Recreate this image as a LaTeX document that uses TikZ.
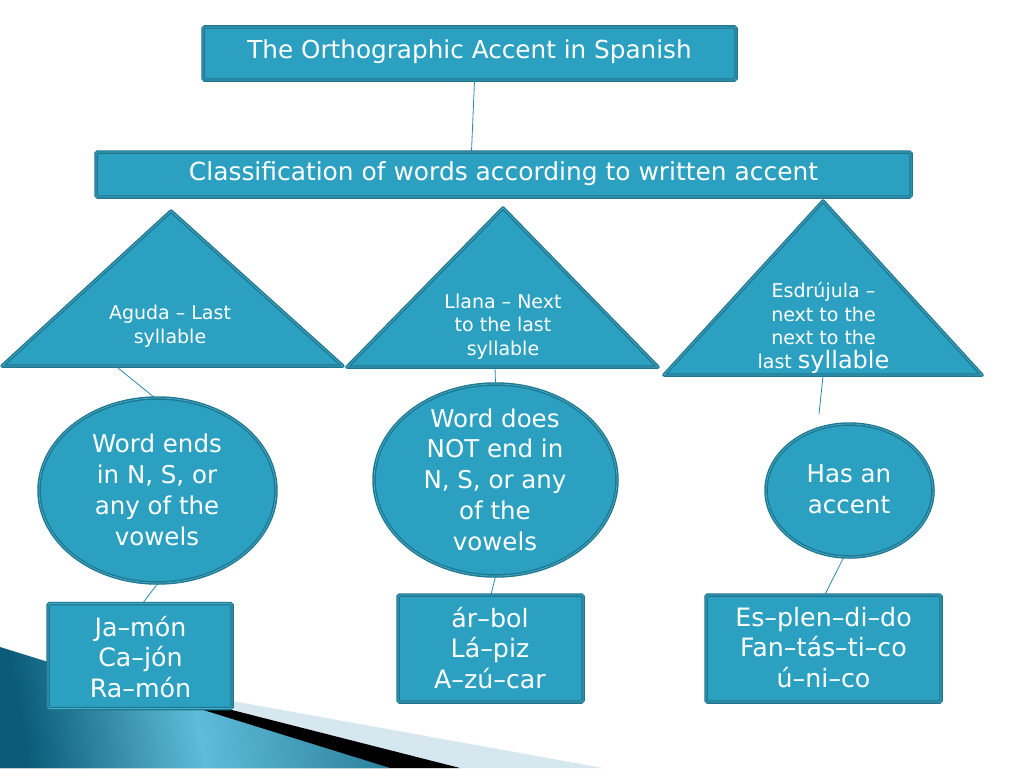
\documentclass[tikz,border=0pt]{standalone}
\usepackage{fontspec}
\setmainfont{DejaVu Sans}
\usetikzlibrary{shapes.geometric}
\definecolor{boxfill}{RGB}{44,160,193}
\definecolor{boxline}{RGB}{31,118,143}
\definecolor{boxinner}{RGB}{70,175,205}
\definecolor{conn}{RGB}{40,140,168}
\definecolor{tealdark}{RGB}{10,92,120}
\definecolor{teallight}{RGB}{95,188,218}
\definecolor{lightband}{RGB}{214,231,240}
\tikzset{
  shapebox/.style={draw=boxline, double=boxinner, double distance=0.7pt, line width=1.4pt, fill=boxfill, rounded corners=1.5pt, inner sep=0pt},
  ellbox/.style={ellipse, draw=boxline, double=boxinner, double distance=0.7pt, line width=1.4pt, fill=boxfill, inner sep=0pt},
  tribox/.style={draw=boxline, double=boxinner, double distance=0.7pt, line width=1.4pt, fill=boxfill, line join=round},
  txt/.style={text=white, align=center, inner sep=0pt},
  conline/.style={draw=conn, line width=0.8pt},
  trifont/.style={font=\fontsize{19}{23.5}\selectfont},
  ellfont/.style={font=\fontsize{24.5}{30.8}\selectfont},
  boxfont/.style={font=\fontsize{25.3}{30.8}\selectfont},
}
\begin{document}
\begin{tikzpicture}[x=1pt,y=-1pt]
\useasboundingbox (0,0) rectangle (1024,768);
\fill[white] (0,0) rectangle (1024,768);
% decoration
\fill[lightband] (0,659) -- (603,768) -- (0,768) -- cycle;
\fill[black] (0,651) -- (460,768) -- (0,768) -- cycle;
\shade[left color=tealdark, right color=tealdark!60!teallight, middle color=teallight, shading angle=100] (0,647) -- (390,768) -- (0,768) -- cycle;
% top boxes
\node[shapebox, minimum width=533pt, minimum height=53pt] (top) at (469.5,53.5) {};
\node[txt, font=\fontsize{24.7}{30}\selectfont] (toptxt) at (469.5,52) {The Orthographic Accent in Spanish};
\node[shapebox, minimum width=815pt, minimum height=45pt] (cls) at (503.5,174.5) {};
\node[txt, font=\fontsize{24.9}{30}\selectfont] (clstxt) at (503.5,173.5) {Classification of words according to written accent};
% triangles
\coordinate (t1a) at (171,211); \coordinate (t1l) at (2,366); \coordinate (t1r) at (343,366);
\coordinate (t2a) at (503,208); \coordinate (t2l) at (347,367); \coordinate (t2r) at (658,367);
\coordinate (t3a) at (823,201); \coordinate (t3l) at (664,375); \coordinate (t3r) at (982,375);
\path[tribox] (t1a) -- (t1r) -- (t1l) -- cycle;
\path[tribox] (t2a) -- (t2r) -- (t2l) -- cycle;
\path[tribox] (t3a) -- (t3r) -- (t3l) -- cycle;
\node[txt, trifont] (t1txt) at (170,326.5) {Aguda – Last\\syllable};
\node[txt, trifont] (t2txt) at (503,326.5) {Llana – Next\\to the last\\syllable};
\node[txt, trifont] (t3txt) at (823.5,328) {Esdrújula –\\next to the\\next to the\\last {\fontsize{24}{23.5}\selectfont syllable}};
% ellipses
\node[ellbox, minimum width=237pt, minimum height=185pt] (e1) at (157.5,490.5) {};
\node[ellbox, minimum width=243pt, minimum height=192pt] (e2) at (495.5,480) {};
\node[ellbox, minimum width=167pt, minimum height=133pt] (e3) at (849.5,490.5) {};
\node[txt, ellfont] (e1txt) at (157,490) {Word ends\\in N, S, or\\any of the\\vowels};
\node[txt, ellfont] (e2txt) at (495,479.5) {Word does\\NOT end in\\N, S, or any\\of the\\vowels};
\node[txt, ellfont] (e3txt) at (849,489.5) {Has an\\accent};
% bottom boxes
\node[shapebox, minimum width=184pt, minimum height=105pt] (b1) at (140,656) {};
\node[shapebox, minimum width=185pt, minimum height=107pt] (b2) at (490.5,648.5) {};
\node[shapebox, minimum width=235pt, minimum height=107pt] (b3) at (823.5,648.5) {};
\node[txt, boxfont] (b1txt) at (140.5,657) {Ja–món\\Ca–jón\\Ra–món};
\node[txt, boxfont] (b2txt) at (490,648) {ár–bol\\Lá–piz\\A–zú–car};
\node[txt, boxfont] (b3txt) at (823.5,647.5) {Es–plen–di–do\\Fan–tás–ti–co\\ú–ni–co};
% connectors
\coordinate (t1c) at (118,368);
\coordinate (t2c) at (495,368);
\coordinate (t3c) at (823,376);
\coordinate (t3end) at (819,414);
\path[conline] ([xshift=5pt]top.south) -- ([xshift=-32pt]cls.north);
\path[conline] (t1c) -- (e1.92);
\path[conline] (t2c) -- (e2.north);
\path[conline] (t3c) -- (t3end);
\path[conline] (e1.270) -- ([xshift=3pt]b1.north);
\path[conline] (e2.270) -- ([xshift=0.5pt]b2.north);
\path[conline] (e3.265) -- ([xshift=1.5pt]b3.north);
\end{tikzpicture}
\end{document}
